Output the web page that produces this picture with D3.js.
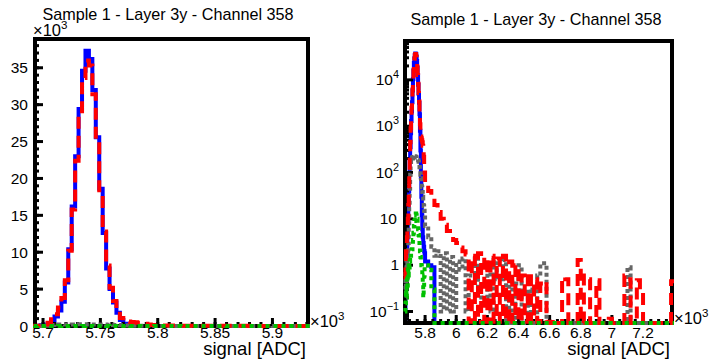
<!DOCTYPE html>
<html>
<head>
<meta charset="utf-8">
<script src="https://cdn.jsdelivr.net/npm/d3@7"></script>
<style>
  body { margin: 0; background: #fff; }
  text { font-family: "Liberation Sans", Arial, sans-serif; fill: #000; }
</style>
</head>
<body>
<div class="canvas"></div>
<script>
// bin lower edges in ADC: fine bins around the pedestal peak, coarse bins in the tail
const peakEdges = d3.range(5671, 5800, 3);
const tailEdges = d3.range(5800, 7400, 20);
const lastEdge = 7400;

// counts per bin (peak region, 43 bins)
const bluePeak = [0, 0.2, 0.5, 1, 2, 4, 8, 18, 40, 90, 180, 350, 700, 1300, 2100, 3300,
  5900, 10400, 16200, 23000, 29400, 34600, 37300, 36200, 32000, 25600, 18600, 12600,
  7800, 5000, 3200, 1800, 800, 300, 80, 30, 12, 6, 4, 3, 2.5, 2, 1.8];
const redPeak = [0.5, 1, 2, 3, 4, 6, 10, 20, 45, 100, 220, 450, 900, 1600, 2500, 3800,
  6200, 10200, 15800, 22400, 28600, 33600, 36000, 35300, 31400, 25200, 18400, 12800,
  8200, 5200, 3400, 2000, 1100, 700, 600, 550, 500, 450, 380, 300, 220, 150, 100];
const greyPeak = [0.3, 0.8, 0.2, 1.5, 0.5, 2, 1.2, 3, 8, 20, 45, 90, 150, 190, 200, 210,
  200, 215, 220, 225, 230, 225, 220, 215, 210, 205, 200, 195, 185, 170, 150, 130, 110,
  90, 75, 60, 48, 38, 30, 24, 19, 15, 12];
const greenPeak = [0.1, 0.15, 0.3, 0.2, 0.5, 0.3, 0.8, 0.6, 1, 0.8, 1.2, 1.5, 1.4, 1.8,
  2, 2.2, 2.5, 3.5, 5, 7, 9, 11, 12, 13, 12, 11, 10, 8, 6, 4.5, 3.5, 2.5, 2, 1.5, 1.2,
  1, 0.8, 0.6, 0.4, 0.2, 0.3, 0.6, 0.9];

// counts per bin (tail region, 80 bins)
const blueTail = [1.2, 1, 0.9, 0, 0, 0, 0, 0, 0, 0,
  0, 0, 0, 0, 0, 0, 0, 0, 0, 0,
  0, 0, 0, 0, 0, 0, 0, 0, 0, 0,
  0, 0, 0, 0, 0, 0, 0, 0, 0, 0,
  0, 0, 0, 0, 0, 0, 0, 0, 0, 0,
  0, 0, 0, 0, 0, 0, 0, 0, 0, 0,
  0, 0, 0, 0, 0, 0, 0, 0, 0, 0,
  0, 0, 0, 0, 0, 0, 0, 0, 0, 0];
const redTail = [60, 40, 28, 20, 14, 10, 7.5, 5.5, 4.5, 3.5,
  3, 2.4, 2, 1.7, 0.06, 1.6, 0.06, 1.8, 0.06, 1.5,
  0.06, 1.6, 0.06, 1.4, 0.06, 1.6, 0.06, 1.2, 0.06, 1,
  0.06, 0.6, 0.06, 0.7, 0.06, 0.5, 0.06, 0.4, 0.45, 0.06,
  0, 0.07, 0, 0, 0.55, 0.5, 0, 0, 0, 1.3,
  0, 0.6, 0.5, 0, 0, 0.47, 0, 0, 0, 0.07,
  0, 0, 0, 0, 0.6, 0.5, 0, 0, 0.47, 0.3,
  0, 0, 0, 0, 0, 0, 0, 0, 0, 0.45];
const greyTail = [7, 4, 2.5, 1.6, 2, 0.1, 1.8, 0.1, 1.5, 0.1,
  1.2, 0.8, 1.4, 0.1, 0.6, 0.6, 1.5, 0.2, 0.2, 0.2,
  0.8, 0.1, 1.3, 0.5, 0.5, 1.3, 0, 0.5, 0, 0.4,
  1, 0, 0, 0.3, 0, 0, 0.6, 1.1, 1.1, 0,
  0, 0, 0, 0, 0, 0, 0, 0, 0, 0,
  0, 0, 0, 0, 0, 0, 0, 0, 0, 0,
  0, 0, 0, 0, 0, 0.9, 0, 0, 0, 0,
  0, 0, 0, 0, 0, 0, 0, 0, 0, 0];
const greenTail = [1, 0.8, 0.3, 0, 0, 0, 0, 0, 0, 0,
  0, 0, 0, 0, 0, 0, 0, 0, 0, 0,
  0, 0, 0, 0, 0, 0, 0, 0, 0, 0,
  0, 0, 0, 0, 0, 0, 0, 0, 0, 0,
  0, 0, 0, 0, 0, 0, 0, 0, 0, 0,
  0, 0, 0, 0, 0, 0, 0, 0, 0, 0,
  0, 0, 0, 0, 0, 0, 0, 0, 0, 0,
  0, 0, 0, 0, 0, 0, 0, 0, 0, 0];

const titleText = "Sample 1 - Layer 3y - Channel 358";
const xTitle = "signal [ADC]";

const styles = {
  blue: { color: "#0000ff", dash: null },
  red: { color: "#ff0000", dash: "12,7" },
  grey: { color: "#666666", dash: "4,3" },
  green: { color: "#00c000", dash: "4,4" },
};

const edges = peakEdges.concat(tailEdges, [lastEdge]);
const hist = (peak, tail) => {
  const v = peak.concat(tail);
  return edges.map((e, i) => [e, v[Math.min(i, v.length - 1)]]);
};
const histos = {
  blue: hist(bluePeak, blueTail),
  red: hist(redPeak, redTail),
  grey: hist(greyPeak, greyTail),
  green: hist(greenPeak, greenTail),
};

const svg = d3
  .select(".canvas")
  .append("svg")
  .attr("width", 709)
  .attr("height", 362);

const LOGMIN = 0.0565;

const panels = [
  { id: "lin", left: 35, right: 308, top: 39, bottom: 326, xDomain: [5693, 5931], log: false,
    titleX: 168, titleY: 20 },
  { id: "log", left: 405, right: 672, top: 41, bottom: 323, xDomain: [5671, 7386], log: true,
    titleX: 536, titleY: 25 },
];

// superscript helper: "×10³" style text
function powerText(g, x, y, base, exp, size, anchor) {
  const t = g.append("text").attr("x", x).attr("y", y)
    .attr("font-size", size).attr("text-anchor", anchor || "start");
  t.append("tspan").text(base);
  if (exp !== null) {
    t.append("tspan").attr("dy", -size * 0.45).attr("font-size", size * 0.7).text(exp);
  }
  return t;
}

panels.forEach((p) => {
  const g = svg.append("g");
  const x = d3.scaleLinear().domain(p.xDomain).range([p.left, p.right]);
  const y = p.log
    ? d3.scaleLog().domain([LOGMIN, 69000]).range([p.bottom, p.top])
    : d3.scaleLinear().domain([0, 38.9]).range([p.bottom, p.top]);
  const yv = p.log ? (v) => y(Math.max(v, LOGMIN)) : (v) => y(v / 1000);

  const clipId = "clip-" + p.id;
  g.append("clipPath").attr("id", clipId)
    .append("rect")
    .attr("x", p.left - 2).attr("y", p.top - 2)
    .attr("width", p.right - p.left + 4).attr("height", p.bottom - p.top + 4);

  const line = d3.line()
    .x((d) => x(d[0]))
    .y((d) => yv(d[1]))
    .curve(d3.curveStepAfter);

  const drawHist = (name) => {
    g.append("path")
      .attr("clip-path", `url(#${clipId})`)
      .attr("d", line(histos[name]))
      .attr("fill", "none")
      .attr("stroke", styles[name].color)
      .attr("stroke-width", 4)
      .attr("stroke-dasharray", styles[name].dash);
  };

  // first histogram, then frame and axes, then the others drawn "same"
  drawHist("blue");

  g.append("rect")
    .attr("x", p.left).attr("y", p.top)
    .attr("width", p.right - p.left).attr("height", p.bottom - p.top)
    .attr("fill", "none").attr("stroke", "#000").attr("stroke-width", 4);

  const ticks = g.append("g").attr("stroke", "#000").attr("stroke-width", 3);
  let xMajor, xMinor, yMajor, yMinor;
  if (p.log) {
    xMajor = d3.range(5800, 7300, 200);
    xMinor = d3.range(5700, p.xDomain[1], 50);
    yMajor = [0.1, 1, 10, 100, 1000, 10000];
    yMinor = [];
    [0.01, 0.1, 1, 10, 100, 1000, 10000].forEach((d) => {
      d3.range(2, 10).forEach((k) => {
        const v = d * k;
        if (v > LOGMIN && v < 69000) yMinor.push(v);
      });
    });
  } else {
    xMajor = d3.range(5700, 5931, 50);
    xMinor = d3.range(5700, 5931, 10);
    yMajor = d3.range(0, 36, 5);
    yMinor = d3.range(0, 39, 1);
  }
  xMinor.forEach((d) => ticks.append("line")
    .attr("x1", x(d)).attr("x2", x(d)).attr("y1", p.bottom).attr("y2", p.bottom - 4));
  xMajor.forEach((d) => ticks.append("line")
    .attr("x1", x(d)).attr("x2", x(d)).attr("y1", p.bottom).attr("y2", p.bottom - 8));
  yMinor.forEach((d) => ticks.append("line")
    .attr("x1", p.left).attr("x2", p.left + 4).attr("y1", y(d)).attr("y2", y(d)));
  yMajor.forEach((d) => ticks.append("line")
    .attr("x1", p.left).attr("x2", p.left + 8).attr("y1", y(d)).attr("y2", y(d)));

  drawHist("grey");
  drawHist("red");
  drawHist("green");

  // x tick labels
  xMajor.forEach((d) => {
    g.append("text")
      .attr("x", x(d)).attr("y", 338)
      .attr("font-size", 15.5).attr("text-anchor", "middle")
      .text(d3.format("")(+(d / 1000).toFixed(2)));
  });

  // y tick labels
  if (p.log) {
    yMajor.forEach((d) => {
      const e = Math.round(Math.log10(d));
      const yy = y(d) + 5;
      if (e === 0) powerText(g, p.left - 6, yy, "1", null, 15.5, "end");
      else if (e === 1) powerText(g, p.left - 8, yy, "10", null, 15.5, "end");
      else powerText(g, p.left - 6, yy, "10", e < 0 ? "\u2212" + (-e) : String(e), 15.5, "end");
    });
  } else {
    yMajor.forEach((d) => {
      g.append("text")
        .attr("x", p.left - 7).attr("y", y(d) + 5.5)
        .attr("font-size", 15.5).attr("text-anchor", "end")
        .text(d);
    });
    powerText(g, p.left - 2, p.top - 3, "\u00d710", "3", 16.5);
  }

  // x exponent and title
  powerText(g, p.right + 2, p.bottom + 1, "\u00d710", "3", 16.5);
  g.append("text")
    .attr("x", p.right - 2).attr("y", 355)
    .attr("font-size", 18.5).attr("text-anchor", "end")
    .text(xTitle);

  g.append("text")
    .attr("x", p.titleX).attr("y", p.titleY)
    .attr("font-size", 16.2).attr("text-anchor", "middle")
    .text(titleText);
});
</script>
</body>
</html>
